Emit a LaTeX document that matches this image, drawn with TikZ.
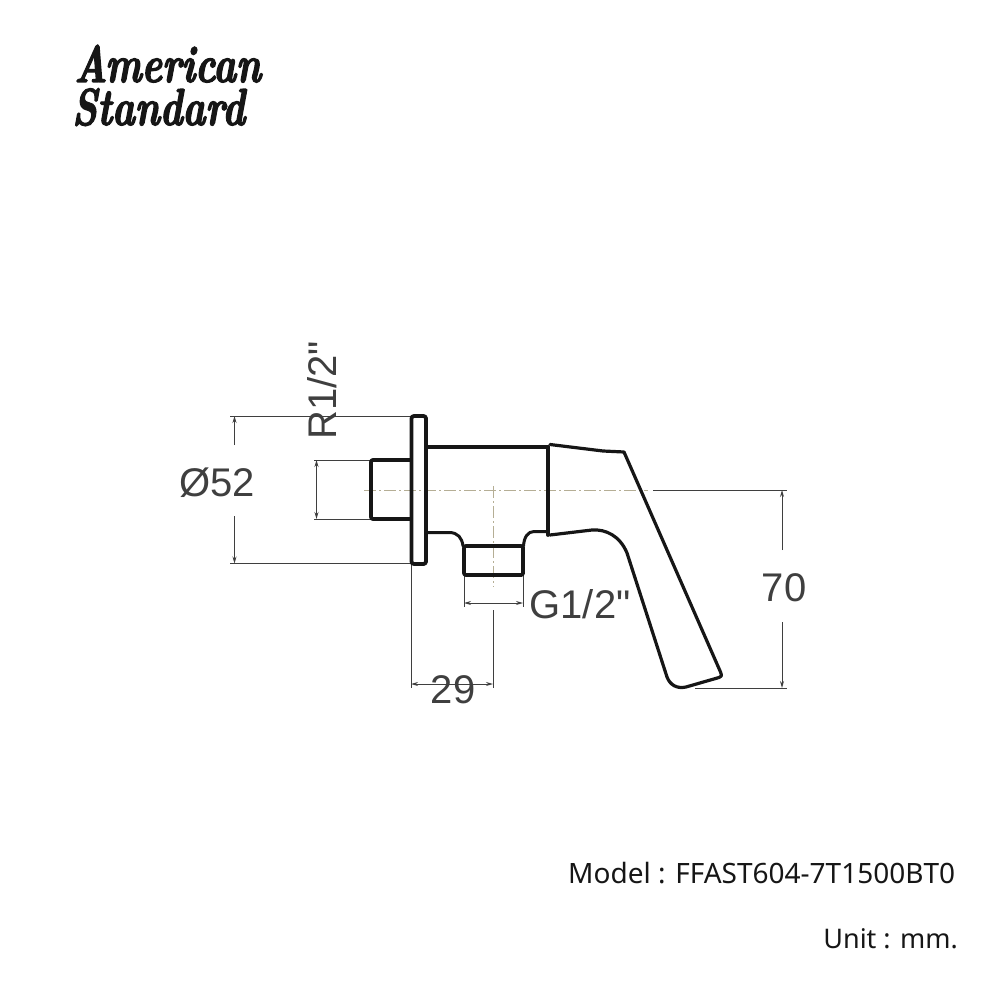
\documentclass[tikz,border=0pt]{standalone}
\usepackage{fontspec}
\newfontfamily\dimfont{Liberation Sans}
\newfontfamily\notefont{Noto Sans}
\newfontfamily\logofont[BoldItalicFeatures={FakeBold=2.5,FakeStretch=0.74}]{Latin Modern Roman}
\usetikzlibrary{arrows.meta}
\definecolor{ink}{HTML}{161616}
\definecolor{dimc}{HTML}{3F3F3F}
\definecolor{cl}{HTML}{B5AE95}
\tikzset{
  body/.style={draw=ink,line width=3.8pt,line join=round,line cap=round},
  thin body/.style={draw=ink,line width=3pt,line join=round,line cap=round},
  dimline/.style={draw=dimc,line width=1pt},
  arr/.style={dimline,{Stealth[length=7pt,width=4pt]}-{Stealth[length=7pt,width=4pt]}},
  arrs/.style={dimline,-{Stealth[length=7pt,width=4pt]}},
  centre/.style={draw=cl,line width=1pt,dash pattern=on 12pt off 3pt on 2pt off 3pt},
  dimtext/.style={inner sep=0pt,text=dimc,font=\dimfont\fontsize{40}{40}\selectfont},
  notetext/.style={inner sep=0pt,text=ink,font=\notefont\fontsize{27}{27}\selectfont},
  modeltext/.style={inner sep=0pt,text=ink,font=\notefont\fontsize{28}{28}\selectfont},
  logotext/.style={inner sep=0pt,text=ink,font=\logofont\bfseries\itshape\fontsize{52}{52}\selectfont}
}
\begin{document}
\begin{tikzpicture}[x=1pt,y=-1pt]
\useasboundingbox (0,0) rectangle (1000,1000);
% centre lines
\draw[centre] (364,490) -- (648,490);
\draw[centre] (493,486) -- (493,587);
% extension lines
\draw[dimline] (230,416) -- (411,416);
\draw[dimline] (230,563.5) -- (411,563.5);
\draw[dimline] (314,460) -- (371,460);
\draw[dimline] (314,519) -- (371,519);
\draw[dimline] (411,564) -- (411,688);
\draw[dimline] (464,575) -- (464,607);
\draw[dimline] (523,575) -- (523,607);
\draw[dimline] (493,610) -- (493,688);
\draw[dimline] (653,490) -- (787,490);
\draw[dimline] (695,688) -- (787,688);
% dimension arrows
\draw[arrs] (234.5,445) -- (234.5,416);
\draw[arrs] (234.5,516) -- (234.5,563.5);
\draw[arr] (316.5,460) -- (316.5,519);
\draw[arr] (464,603) -- (523,603);
\draw[arr] (411,684) -- (493,684);
\draw[arrs] (782,550) -- (782,490);
\draw[arrs] (782,622) -- (782,688);
% flange
\draw[body,rounded corners=2.5pt] (411.5,416) -- (426,416) -- (426,564) -- (411.5,564) -- cycle;
% inlet stub
\draw[body,rounded corners=2pt] (411,460) -- (371,460) -- (371,519) -- (411,519);
% body
\draw[body] (426,447) -- (548,447);
\draw[body] (548,447) -- (548,535);
\draw[thin body] (426,532.5) -- (449,532.5) .. controls (458,532.5) and (462,538) .. (463,546);
\draw[thin body] (548,531.5) -- (534,531.5) .. controls (528,531.5) and (524,537) .. (523.5,546);
% outlet
\draw[body,rounded corners=2pt] (464,546) -- (523,546) -- (523,575) -- (464,575) -- cycle;
% lever
\draw[body,line width=3.2pt] (550,444.5) -- (603,451) -- (624,452) -- (720.5,672)
  .. controls (722,676) and (721.5,677) .. (719,677.5) -- (686,687)
  .. controls (677,689) and (670,685) .. (667,677)
  -- (627,553)
  .. controls (620,536) and (606,529) .. (592,530) -- (550,535);
% labels
\node[dimtext] (d52) at (217,483) {Ø52};
\node[dimtext,rotate=90] (r12) at (322.5,390.5) {R1/2"};
\node[dimtext] (g12) at (580,604) {G1/2"};
\node[dimtext] (d29) at (453,690) {29};
\node[dimtext] (d70) at (784,588) {70};
\node[modeltext,anchor=west] (model) at (568,873) {Model : FFAST604-7T1500BT0};
\node[notetext,anchor=east] (unit) at (958,939) {Unit : mm.};
\node[logotext,anchor=base west] (logoa) at (74,82) {American};
\node[logotext,anchor=base west] (logob) at (72,125) {Standard};
\end{tikzpicture}
\end{document}
